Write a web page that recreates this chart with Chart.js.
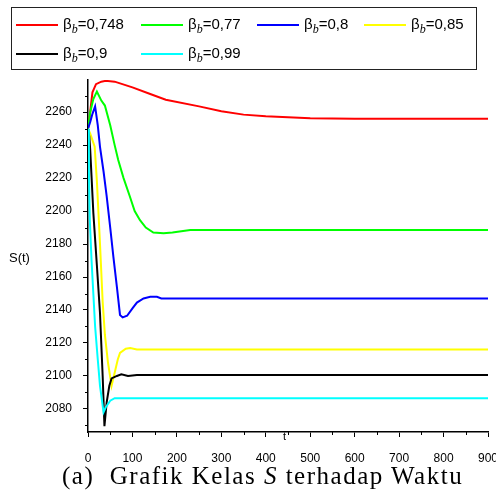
<!DOCTYPE html>
<html>
<head>
<meta charset="utf-8">
<script src="https://cdn.jsdelivr.net/npm/chart.js@4.4.1/dist/chart.umd.min.js"></script>
<style>
  html, body { margin: 0; padding: 0; background: #fff; }
  #wrap { position: relative; width: 496px; height: 495px; overflow: hidden; }
  #wrap canvas { position: absolute; left: 0; top: 0; }
  #legend {
    position: absolute; left: 11px; top: 7px; width: 466px; height: 63px;
    border: 1px solid #222; box-sizing: border-box;
    font-family: "Liberation Sans", Arial, sans-serif; font-size: 15px; color: #000;
  }
  .item { position: absolute; white-space: nowrap; height: 20px; line-height: 20px; }
  .item .swatch { display: inline-block; width: 42px; height: 2px; vertical-align: middle; margin-right: 5px; }
  .item sub { font-family: "Liberation Serif", serif; font-style: italic; font-size: 12px; vertical-align: -4px; line-height: 0; }
  .txt { position: absolute; color: #000; white-space: nowrap; }
  #ylab { left: 9px; top: 250px; font: 13px "Liberation Sans", Arial, sans-serif; }
  #xlab { left: 283px; top: 430px; font: 11px "Liberation Sans", Arial, sans-serif; }
  #caption { left: 62px; top: 462px; font: 25px "Liberation Serif", serif; letter-spacing: 1.5px; }
</style>
</head>
<body>
<div id="wrap">
  <canvas id="chart" width="496" height="495"></canvas>
  <div id="legend"></div>
  <div class="txt" id="ylab">S(t)</div>
  <div class="txt" id="xlab">t</div>
  <div class="txt" id="caption">(a)&nbsp;&nbsp;Grafik Kelas <i>S</i> terhadap Waktu</div>
</div>
<script>
// --------------------------
// data (t, S(t))
// --------------------------
const betaLabels = ["0,748", "0,77", "0,8", "0,85", "0,9", "0,99"];
const lineColors = ["#ff0000", "#00ff00", "#0000ff", "#ffff00", "#000000", "#00ffff"];

const sRed = [[0, 2250], [4, 2258], [10, 2272], [18, 2277], [30, 2278.5], [40, 2279], [60, 2278.5],
  [100, 2275], [140, 2271], [175, 2267.5], [250, 2263.5], [300, 2260.5], [350, 2258.5],
  [400, 2257.5], [500, 2256.3], [600, 2256], [900, 2256]];

const sGreen = [[0, 2250], [5, 2260], [12, 2268], [20, 2272.5], [30, 2267], [38, 2264], [50, 2252],
  [60, 2240], [68, 2231], [80, 2220], [94, 2209], [105, 2200], [117, 2194.5], [130, 2190],
  [147, 2187], [170, 2186.5], [190, 2187], [210, 2187.8], [230, 2188.5], [900, 2188.5]];

const sBlue = [[0, 2250], [5, 2254], [10, 2259], [16, 2263.5], [22, 2252], [27, 2239], [35, 2224],
  [42, 2209], [50, 2190], [57, 2172.5], [65, 2154], [72, 2137], [78, 2135.5], [88, 2136.5],
  [100, 2141], [110, 2144.5], [125, 2147], [140, 2148], [155, 2148], [165, 2147], [900, 2147]];

const sYellow = [[0, 2250], [5, 2247], [10, 2243], [15, 2239], [20, 2218], [27, 2180], [33, 2145],
  [38, 2125], [45, 2108], [53, 2094], [60, 2102], [67, 2110], [72, 2114], [85, 2116.5],
  [95, 2117], [110, 2116], [900, 2116]];

const sBlack = [[0, 2250], [3, 2245], [5, 2237], [12, 2199], [20, 2167], [27, 2138], [33, 2100],
  [37, 2069.5], [42, 2084], [48, 2094], [53, 2098.5], [65, 2100], [75, 2101], [90, 2100],
  [110, 2100.5], [900, 2100.5]];

const sCyan = [[0, 2250], [2, 2225], [4, 2195], [8, 2170], [12, 2150], [16, 2130], [22, 2110],
  [27, 2094], [31, 2086], [35, 2078], [40, 2081], [45, 2083], [50, 2085], [60, 2086.5], [900, 2086.5]];

const seriesList = [sRed, sGreen, sBlue, sYellow, sBlack, sCyan];

const xTicks = [0, 100, 200, 300, 400, 500, 600, 700, 800, 900];
const xMinorTicks = [50, 150, 250, 350, 450, 550, 650, 750, 850];
const yTicks = [2080, 2100, 2120, 2140, 2160, 2180, 2200, 2220, 2240, 2260];
const yMinorTicks = [2070, 2090, 2110, 2130, 2150, 2170, 2190, 2210, 2230, 2250, 2270];

// --------------------------
// legend (HTML, because of the subscript)
// --------------------------
function buildLegend() {
  const box = document.getElementById("legend");
  const colLeft = [4, 129, 245, 352];
  const rowTop = [6, 35];
  betaLabels.forEach((lab, i) => {
    const el = document.createElement("div");
    el.className = "item";
    el.style.left = colLeft[i % 4] + "px";
    el.style.top = rowTop[Math.floor(i / 4)] + "px";
    el.innerHTML = `<span class="swatch" style="background:${lineColors[i]}"></span>β<sub>b</sub>=${lab}`;
    box.appendChild(el);
  });
}

// --------------------------
// minor ticks
// --------------------------
const minorTicks = {
  id: "minorTicks",
  afterDraw(chart) {
    const ctx = chart.ctx;
    const xs = chart.scales.x, ys = chart.scales.y;
    const area = chart.chartArea;
    ctx.save();
    ctx.strokeStyle = "#000";
    ctx.lineWidth = 1;
    ctx.beginPath();
    xMinorTicks.forEach(v => {
      const px = Math.round(xs.getPixelForValue(v)) + 0.5;
      ctx.moveTo(px, area.bottom);
      ctx.lineTo(px, area.bottom + 3);
    });
    yMinorTicks.forEach(v => {
      const py = Math.round(ys.getPixelForValue(v)) + 0.5;
      ctx.moveTo(area.left, py);
      ctx.lineTo(area.left - 3, py);
    });
    ctx.stroke();
    ctx.restore();
  }
};

const tickFont = { family: "'Liberation Sans', Arial, sans-serif", size: 12 };

new Chart(document.getElementById("chart"), {
  type: "line",
  data: {
    datasets: seriesList.map((s, i) => ({
      label: betaLabels[i],
      data: s.map(p => ({ x: p[0], y: p[1] })),
      borderColor: lineColors[i],
      borderWidth: 2,
      pointRadius: 0,
      tension: 0,
      fill: false,
      order: seriesList.length - i
    }))
  },
  options: {
    responsive: false,
    animation: false,
    layout: { padding: { top: 80, right: 8, left: 0, bottom: 0 } },
    plugins: { legend: { display: false }, tooltip: { enabled: false } },
    scales: {
      x: {
        type: "linear",
        min: 0,
        max: 900,
        afterBuildTicks: s => { s.ticks = xTicks.map(v => ({ value: v })); },
        afterFit: s => { s.height = 63; s.paddingLeft = 0; s.paddingRight = 0; },
        grid: { drawOnChartArea: false, tickLength: 5, color: "#000", lineWidth: 1 },
        border: { color: "#000", width: 1.5 },
        ticks: { font: tickFont, color: "#000", padding: 14, maxRotation: 0, autoSkip: false,
                 callback: v => String(v) }
      },
      y: {
        type: "linear",
        min: 2066,
        max: 2279.5,
        afterBuildTicks: s => { s.ticks = yTicks.map(v => ({ value: v })); },
        afterFit: s => { s.width = 88; s.paddingTop = 0; s.paddingBottom = 0; },
        grid: { drawOnChartArea: false, tickLength: 5, color: "#000", lineWidth: 1 },
        border: { color: "#000", width: 1.5 },
        ticks: { font: tickFont, color: "#000", padding: 11, autoSkip: false,
                 callback: v => String(v) }
      }
    }
  },
  plugins: [minorTicks]
});

buildLegend();
</script>
</body>
</html>
